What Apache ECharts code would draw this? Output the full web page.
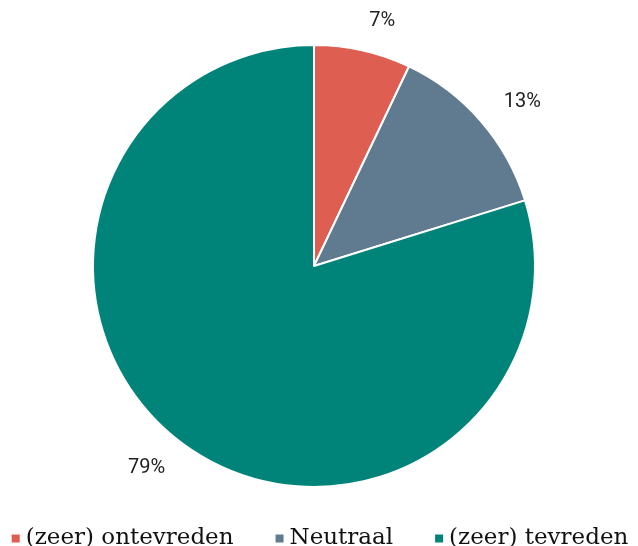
<!DOCTYPE html>
<html>
<head>
	<meta charset="utf-8">
	<title>Tevredenheid</title>
	<script src="https://cdn.jsdelivr.net/npm/echarts@6/dist/echarts.min.js"></script>
	<style>
		body { margin: 0; background: #fff; }
	</style>
</head>
<body>
	<div id="container" style="width: 638px;height:546px;"></div>

	<script type="text/javascript">
	var categories = ["(zeer) ontevreden", "Neutraal", "(zeer) tevreden"];
	var values = [7, 13, 79];
	var colors = ["#de5e52", "#607b8f", "#00847a"];

	var pieData = [];
	for (var i = 0; i < categories.length; i++) {
		pieData.push({ name: categories[i], value: values[i], itemStyle: { color: colors[i] } });
	}

	var myChart = echarts.init(document.getElementById("container"));
	myChart.setOption({
		animation: false,
		legend: {
			data: categories,
			bottom: -9,
			left: 'center',
			itemWidth: 10,
			itemHeight: 10,
			itemGap: 40,
			icon: 'rect',
			textStyle: {
				fontFamily: 'DejaVu Serif',
				fontSize: 23,
				color: '#111'
			}
		},
		series: [
			{
				type: 'pie',
				center: [314, 266],
				radius: 221,
				startAngle: 90,
				clockwise: true,
				data: pieData,
				itemStyle: { borderColor: '#fff', borderWidth: 2 },
				label: {
					position: 'outside',
					formatter: '{c}%',
					fontFamily: 'Roboto',
					fontSize: 20,
					color: '#222',
					distanceToLabelLine: 0
				},
				labelLine: { show: false, length: 30, length2: 0 }
			}
		]
	});
	</script>
</body>
</html>
